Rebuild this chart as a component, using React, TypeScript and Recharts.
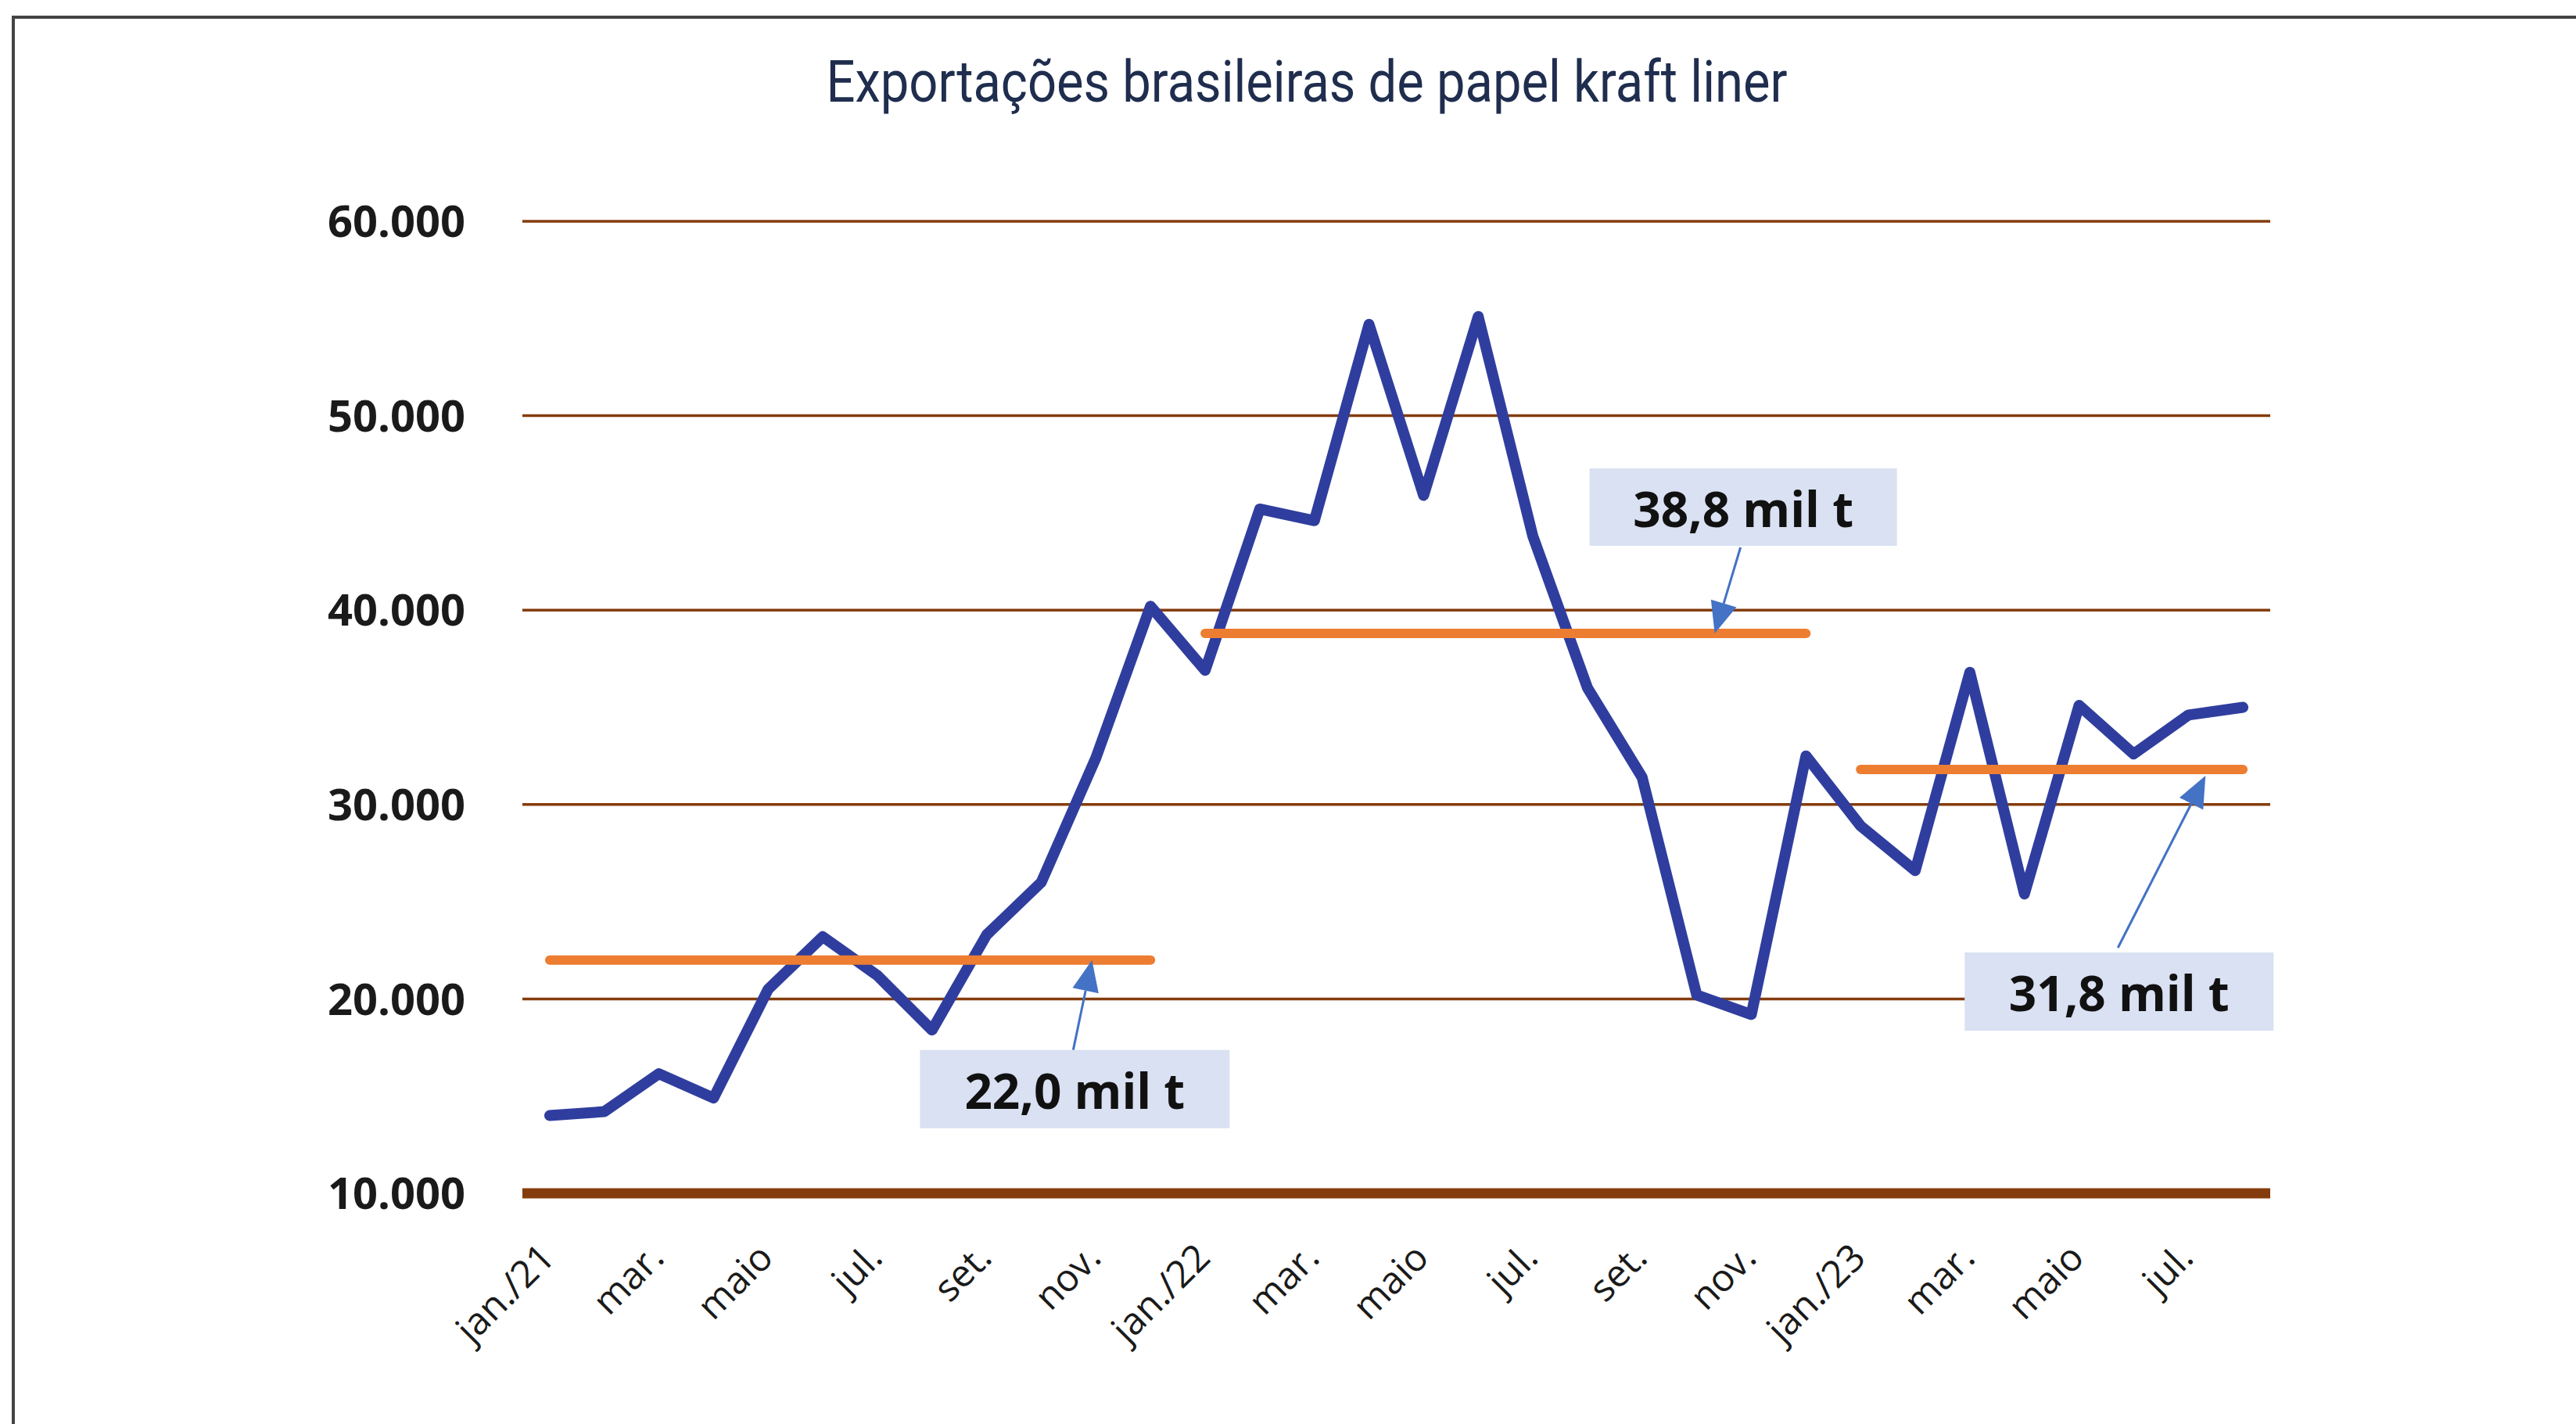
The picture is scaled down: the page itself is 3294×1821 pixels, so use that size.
import { LineChart, Line, XAxis, YAxis, CartesianGrid, ReferenceDot } from 'recharts';

// months jan/21 .. ago/23 (unique keys) and what the axis shows
const periods = [
  'jan/21', 'fev/21', 'mar/21', 'abr/21', 'mai/21', 'jun/21', 'jul/21', 'ago/21', 'set/21', 'out/21', 'nov/21', 'dez/21',
  'jan/22', 'fev/22', 'mar/22', 'abr/22', 'mai/22', 'jun/22', 'jul/22', 'ago/22', 'set/22', 'out/22', 'nov/22', 'dez/22',
  'jan/23', 'fev/23', 'mar/23', 'abr/23', 'mai/23', 'jun/23', 'jul/23', 'ago/23',
];
const tickLabels = [
  'jan./21', 'fev.', 'mar.', 'abr.', 'maio', 'jun.', 'jul.', 'ago.', 'set.', 'out.', 'nov.', 'dez.',
  'jan./22', 'fev.', 'mar.', 'abr.', 'maio', 'jun.', 'jul.', 'ago.', 'set.', 'out.', 'nov.', 'dez.',
  'jan./23', 'fev.', 'mar.', 'abr.', 'maio', 'jun.', 'jul.', 'ago.',
];

// monthly exports, tonnes
const exportsTons = [
  14000, 14200, 16150, 14900, 20500, 23200, 21200, 18400, 23300, 26000, 32400, 40200,
  36900, 45200, 44600, 54700, 45900, 55100, 43800, 36000, 31400, 20200, 19200, 32500,
  28900, 26600, 36800, 25400, 35100, 32600, 34600, 35000,
];

// yearly averages (2021, 2022, 2023 up to aug.)
const yearAverages = [22000, 38800, 31800];
const averageLabels = ['22,0 mil t', '38,8 mil t', '31,8 mil t'];
// month the callout arrow points at, per year
const calloutPeriods = ['nov/21', 'out/22', 'jul/23'];

const yTicks = [10000, 20000, 30000, 40000, 50000, 60000];

const data = periods.map((period, i) => {
  const row: Record<string, any> = { period, exports: exportsTons[i] };
  const year = Math.floor(i / 12);
  yearAverages.forEach((v, k) => {
    row['avg' + k] = k === year ? v : null;
  });
  return row;
});

const W = 3294;
const H = 1821;
const BROWN = '#843C0C';
const BLUE = '#2F3E9E';
const ORANGE = '#ED7D31';
// plot is 2235px wide for 32 months; points sit mid-band like Excel
const HALF_BAND = 2235 / periods.length / 2;

const fmt = (v: number) => String(v).replace(/\B(?=(\d{3})+(?!\d))/g, '.');

const MonthTick = (props: any) => {
  const { x, y, payload } = props;
  const i = periods.indexOf(payload.value);
  const tx = x + 9;
  const ty = y + 85;
  return (
    <text
      x={tx}
      y={ty}
      transform={`rotate(-45 ${tx} ${ty})`}
      textAnchor='end'
      fontFamily='Open Sans'
      fontSize={48}
      fill='#1a1a1a'
    >
      {tickLabels[i]}
    </text>
  );
};

const ValueTick = (props: any) => {
  const { x, y, payload } = props;
  return (
    <text
      x={x - 73}
      y={y}
      dy='0.36em'
      textAnchor='end'
      fontFamily='Open Sans'
      fontWeight={700}
      fontSize={56}
      fill='#1a1a1a'
    >
      {fmt(payload.value)}
    </text>
  );
};

// offsets of tip / box / arrow start, relative to the anchor point
const calloutLayout = [
  { tip: [-5, 0], box: [-225, 115, 396, 100], from: [-29, 115] },
  { tip: [23, 0], box: [-137, -211, 393, 99], from: [56, -110] },
  { tip: [22, 8], box: [-286, 234, 395, 100], from: [-90, 228] },
];

const Callout = ({ cx, cy, k }: { cx: number; cy: number; k: number }) => {
  const l = calloutLayout[k];
  const tx = cx + l.tip[0];
  const ty = cy + l.tip[1];
  const fx = cx + l.from[0];
  const fy = cy + l.from[1];
  const len = Math.hypot(tx - fx, ty - fy);
  const ux = (tx - fx) / len;
  const uy = (ty - fy) / len;
  const hl = 40;
  const hw = 17;
  const bx = tx - ux * hl;
  const by = ty - uy * hl;
  const [bl, bt, bw, bh] = l.box;
  return (
    <g>
      <rect x={cx + bl} y={cy + bt} width={bw} height={bh} fill='#D9E1F2' />
      <text
        x={cx + bl + bw / 2}
        y={cy + bt + 75}
        textAnchor='middle'
        fontFamily='Open Sans'
        fontWeight={700}
        fontSize={62}
        fill='#111'
      >
        {averageLabels[k]}
      </text>
      <line x1={fx} y1={fy} x2={bx} y2={by} stroke='#4472C4' strokeWidth={3} />
      <polygon
        points={`${tx},${ty} ${bx - uy * hw},${by + ux * hw} ${bx + uy * hw},${by - ux * hw}`}
        fill='#4472C4'
      />
    </g>
  );
};

export default function App() {
  return (
    <div style={{ position: 'absolute', left: 0, top: 0, width: W, height: H, background: '#fff', overflow: 'hidden' }}>
      <div
        style={{
          position: 'absolute',
          left: 15,
          top: 20,
          width: W,
          height: H,
          borderTop: '4px solid #444',
          borderLeft: '4px solid #444',
        }}
      />
      <svg width={W} height={H} style={{ position: 'absolute', left: 0, top: 0 }}>
        <text
          x={1671}
          y={130}
          textAnchor='middle'
          fontFamily='Roboto'
          fontSize={74}
          textLength={1229}
          lengthAdjust='spacingAndGlyphs'
          fill='#1F2D4E'
        >
          Exportações brasileiras de papel kraft liner
        </text>
      </svg>
      <div style={{ position: 'absolute', left: 0, top: 0 }}>
        <LineChart width={W} height={H} data={data} margin={{ top: 283, right: 391, bottom: 0, left: 0 }}>
          <CartesianGrid vertical={false} stroke={BROWN} strokeWidth={3.5} />
          <XAxis
            dataKey='period'
            height={295}
            interval={1}
            padding={{ left: HALF_BAND, right: HALF_BAND }}
            tickLine={false}
            tickSize={0}
            tickMargin={0}
            axisLine={{ stroke: BROWN, strokeWidth: 13 }}
            tick={<MonthTick />}
          />
          <YAxis
            width={668}
            domain={[10000, 60000]}
            ticks={yTicks}
            axisLine={false}
            tickLine={false}
            tickSize={0}
            tickMargin={0}
            tick={<ValueTick />}
          />
          <Line
            dataKey='exports'
            stroke={BLUE}
            strokeWidth={14}
            strokeLinejoin='round'
            strokeLinecap='round'
            dot={false}
            activeDot={false}
            isAnimationActive={false}
          />
          {yearAverages.map((_, k) => (
            <Line
              key={k}
              dataKey={'avg' + k}
              stroke={ORANGE}
              strokeWidth={12}
              strokeLinecap='round'
              dot={false}
              activeDot={false}
              isAnimationActive={false}
            />
          ))}
          {yearAverages.map((v, k) => (
            <ReferenceDot
              key={'c' + k}
              x={calloutPeriods[k]}
              y={v}
              r={1}
              ifOverflow='visible'
              shape={(p: any) => <Callout cx={p.cx} cy={p.cy} k={k} />}
            />
          ))}
        </LineChart>
      </div>
    </div>
  );
}
